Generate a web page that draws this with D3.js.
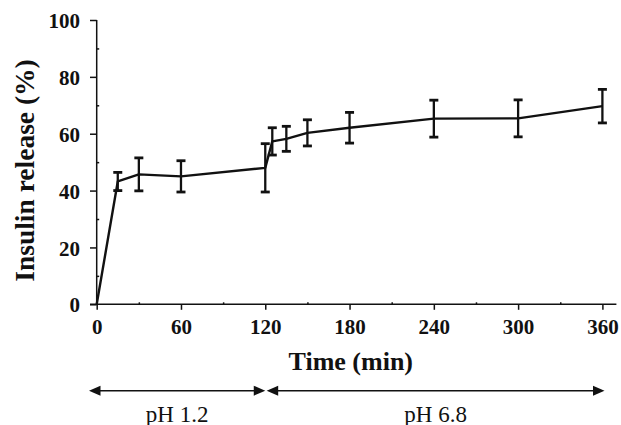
<!DOCTYPE html>
<html>
<head>
<meta charset="utf-8">
<script src="https://cdn.jsdelivr.net/npm/d3@7"></script>
<style>
  body { margin: 0; background: #fff; }
  svg { display: block; font-family: "Liberation Serif", "Times New Roman", serif; }
</style>
</head>
<body>
<svg id="chart" width="621" height="425"></svg>
<script>
// data
const times = [0, 15, 30, 60, 120, 125, 135, 150, 180, 240, 300, 360];
const release = [0, 43.2, 45.7, 45.0, 48.0, 57.3, 58.2, 60.3, 62.1, 65.3, 65.4, 69.7];
const errors = [0, 3.2, 5.8, 5.5, 8.5, 4.8, 4.4, 4.6, 5.4, 6.5, 6.5, 5.9];
const xTicks = [0, 60, 120, 180, 240, 300, 360];
const yTicks = [0, 20, 40, 60, 80, 100];
const phaseLabels = ["pH 1.2", "pH 6.8"];
const phaseBounds = [[-5.5, 120], [121, 361.5]];

const serif = '"Liberation Serif", "Times New Roman", serif';
const svg = d3.select("#chart");
const ink = "#111";

const x = d3.scaleLinear().domain([0, 360]).range([96.7, 602.4]);
const y = d3.scaleLinear().domain([0, 100]).range([304.3, 20]);

/* ==================== */
/* AXES */
/* ==================== */

// axis lines drawn by hand so the x line can run past both ends
svg.append("line")
    .attr("x1", x(0) - 6.7).attr("x2", x(360) + 14)
    .attr("y1", y(0)).attr("y2", y(0))
    .attr("stroke", ink).attr("stroke-width", 1.5);
svg.append("line")
    .attr("x1", x(0)).attr("x2", x(0))
    .attr("y1", y(100)).attr("y2", y(0))
    .attr("stroke", ink).attr("stroke-width", 1.5);

const xAxis = svg.append("g")
    .attr("transform", `translate(0,${y(0)})`)
    .call(d3.axisBottom(x).tickValues(xTicks).tickSize(5.5).tickPadding(9));
xAxis.select(".domain").remove();

// minor x ticks, just tiny nubs above the line
svg.append("g")
    .attr("transform", `translate(0,${y(0)})`)
    .call(d3.axisTop(x).tickValues([30, 90, 150, 210, 270, 330]).tickSize(2).tickFormat(""))
    .select(".domain").remove();

const yAxis = svg.append("g")
    .attr("transform", `translate(${x(0)},0)`)
    .call(d3.axisLeft(y).tickValues(yTicks).tickSize(6.7).tickPadding(10));
yAxis.select(".domain").remove();
yAxis.selectAll(".tick text").attr("dy", "0.36em");

// minor y ticks point inward
svg.append("g")
    .attr("transform", `translate(${x(0)},0)`)
    .call(d3.axisRight(y).tickValues([10, 30, 50, 70, 90]).tickSize(2.5).tickFormat(""))
    .select(".domain").remove();

svg.selectAll(".tick line").attr("stroke", ink).attr("stroke-width", 1.5);
[xAxis, yAxis].forEach(a => {
    a.attr("font-family", serif).attr("font-size", 21);
    a.selectAll(".tick text")
        .style("font-family", serif)
        .style("font-weight", "bold")
        .style("font-size", "21px")
        .attr("fill", ink);
});

// titles
svg.append("text")
    .attr("x", 350.8).attr("y", 370)
    .attr("text-anchor", "middle")
    .attr("font-weight", "bold").attr("font-size", 26)
    .attr("fill", ink)
    .text("Time (min)");

svg.append("text")
    .attr("transform", "translate(34,170.5) rotate(-90)")
    .attr("text-anchor", "middle")
    .attr("font-weight", "bold").attr("font-size", 27.5)
    .attr("fill", ink)
    .text("Insulin release (%)");

/* ==================== */
/* DATA */
/* ==================== */

const pts = times.map((t, i) => ({ t: t, v: release[i], e: errors[i] }));

svg.append("path")
    .datum(pts)
    .attr("fill", "none")
    .attr("stroke", ink)
    .attr("stroke-width", 2.4)
    .attr("stroke-linejoin", "round")
    .attr("d", d3.line().x(d => x(d.t)).y(d => y(d.v)));

const bars = svg.append("g")
    .attr("stroke", ink)
    .selectAll("g")
    .data(pts.filter(d => d.e > 0))
    .join("g");

bars.append("line")
    .attr("x1", d => x(d.t)).attr("x2", d => x(d.t))
    .attr("y1", d => y(d.v - d.e)).attr("y2", d => y(d.v + d.e))
    .attr("stroke-width", 2.3);

bars.selectAll("line.cap")
    .data(d => [[d.t, d.v - d.e], [d.t, d.v + d.e]])
    .join("line")
    .attr("class", "cap")
    .attr("x1", d => x(d[0]) - 4.5).attr("x2", d => x(d[0]) + 4.5)
    .attr("y1", d => y(d[1])).attr("y2", d => y(d[1]))
    .attr("stroke-width", 2.8);

/* ==================== */
/* PH PHASE ARROWS */
/* ==================== */

const arrowY = 390.7;
const headLen = 11.5, headHalf = 5;

phaseBounds.forEach((b, i) => {
    const x0 = x(b[0]), x1 = x(b[1]);
    svg.append("line")
        .attr("x1", x0 + headLen - 1).attr("x2", x1 - headLen + 1)
        .attr("y1", arrowY).attr("y2", arrowY)
        .attr("stroke", ink).attr("stroke-width", 1.6);
    svg.append("path")
        .attr("fill", ink)
        .attr("d", `M${x0},${arrowY} L${x0 + headLen},${arrowY - headHalf} L${x0 + headLen},${arrowY + headHalf} Z`);
    svg.append("path")
        .attr("fill", ink)
        .attr("d", `M${x1},${arrowY} L${x1 - headLen},${arrowY - headHalf} L${x1 - headLen},${arrowY + headHalf} Z`);
    svg.append("text")
        .attr("x", (x0 + x1) / 2).attr("y", 421.5)
        .attr("text-anchor", "middle")
        .attr("font-size", 23)
        .attr("fill", ink)
        .text(phaseLabels[i]);
});
</script>
</body>
</html>
